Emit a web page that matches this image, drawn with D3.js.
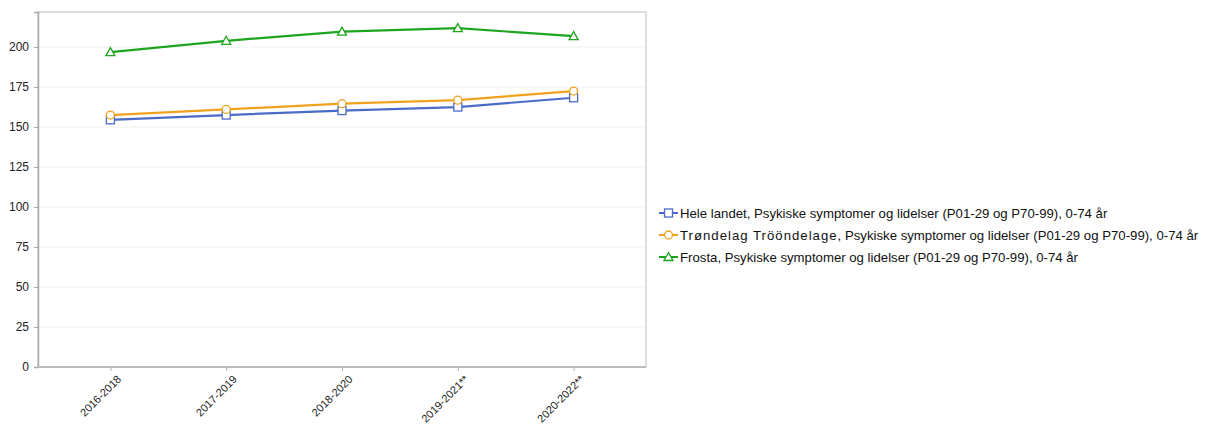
<!DOCTYPE html>
<html><head><meta charset="utf-8">
<script src="https://cdn.jsdelivr.net/npm/d3@7"></script>
<style>body{margin:0;background:#fff;font-family:"Liberation Sans",Arial,sans-serif;}</style>
</head><body><svg id="c" width="1215" height="426"></svg>
<script>
const categories = ["2016-2018","2017-2019","2018-2020","2019-2021**","2020-2022**"];
const seriesRegions = ["Hele landet", "Trøndelag Trööndelage", "Frosta"];
const seriesSuffix = ", Psykiske symptomer og lidelser (P01-29 og P70-99), 0-74 år";
const heleLandet = [154.5, 157.5, 160.3, 162.5, 168.3];
const trondelag = [157.5, 161, 164.6, 166.8, 172.5];
const frosta = [196.8, 203.9, 209.6, 211.8, 206.8];
const yTicks = [0,25,50,75,100,125,150,175,200];
const colors = ["#4a6cc8","#f0a21e","#1ea51e"];
const symbols = ["square","circle","triangle"];

const svg = d3.select("#c");
const L=38, R=646, T=12, B=367;
const x = d3.scalePoint().domain(categories).range([L,R]).padding(0.625);
const y = d3.scaleLinear().domain([0,221.9]).range([B,T]);

// gridlines
svg.append("g").selectAll("line").data(yTicks.filter(d=>d>0)).join("line")
  .attr("x1",L).attr("x2",R).attr("y1",d=>y(d)).attr("y2",d=>y(d))
  .attr("stroke","#f0f0f0").attr("stroke-width",1);

// border
svg.append("path").attr("d",`M${L},${B}V${T}H${R}V${B}`).attr("fill","none")
  .attr("stroke","#d4d4d4").attr("stroke-width",1.5);

// y axis
const ya = svg.append("g").attr("transform",`translate(${L},0)`)
  .call(d3.axisLeft(y).tickValues(yTicks).tickSize(4).tickPadding(5));
ya.select(".domain").attr("stroke","#aaa").attr("stroke-width",1.5);
ya.selectAll(".tick line").attr("stroke","#aaa");
ya.selectAll("text").attr("font-size",12).attr("fill","#222").attr("font-family","Liberation Sans, Arial, sans-serif");

// x axis
const xa = svg.append("g").attr("transform",`translate(0,${B})`)
  .call(d3.axisBottom(x).tickSize(4).tickSizeOuter(0));
xa.select(".domain").attr("d",`M${L},0H${R}`).attr("stroke","#bbb").attr("stroke-width",2);
xa.selectAll(".tick line").attr("stroke","#aaa");
xa.selectAll("text").attr("font-size",11).attr("fill","#222").attr("font-family","Liberation Sans, Arial, sans-serif")
  .attr("text-anchor","end").attr("dy",0).attr("transform","translate(6,8) rotate(-45)");

const data = [heleLandet, trondelag, frosta];
const line = d3.line().x((d,i)=>x(categories[i])).y(d=>y(d));
function marker(g, type, cx, cy, color){
  if(type==="square") g.append("rect").attr("x",cx-4).attr("y",cy-4).attr("width",8).attr("height",8)
      .attr("fill","#fff").attr("stroke",color).attr("stroke-width",1.3);
  else if(type==="circle") g.append("circle").attr("cx",cx).attr("cy",cy).attr("r",4)
      .attr("fill","#fff").attr("stroke",color).attr("stroke-width",1.3);
  else g.append("path").attr("d",`M${cx},${cy-4.5}L${cx+4.5},${cy+3.5}L${cx-4.5},${cy+3.5}Z`)
      .attr("fill","#fff").attr("stroke",color).attr("stroke-width",1.3);
}
data.forEach((s,k)=>{
  const g = svg.append("g");
  g.append("path").datum(s).attr("d",line).attr("fill","none").attr("stroke",colors[k]).attr("stroke-width",2.2);
  s.forEach((v,i)=>marker(g,symbols[k],x(categories[i]),y(v),colors[k]));
});

// legend
const lg = svg.append("g");
seriesRegions.forEach((n,k)=>{
  const yy = 213 + k*22;
  lg.append("line").attr("x1",659).attr("x2",678).attr("y1",yy).attr("y2",yy).attr("stroke",colors[k]).attr("stroke-width",2);
  marker(lg,symbols[k],668.5,yy,colors[k]);
  const t = lg.append("text").attr("x",680).attr("y",yy+4.5).attr("font-size",13.2).attr("fill","#111")
    .attr("font-family","Liberation Sans, Arial, sans-serif");
  t.append("tspan").attr("letter-spacing", k===1 ? 1.0 : 0).text(n);
  t.append("tspan").text(seriesSuffix);
});
</script></body></html>
